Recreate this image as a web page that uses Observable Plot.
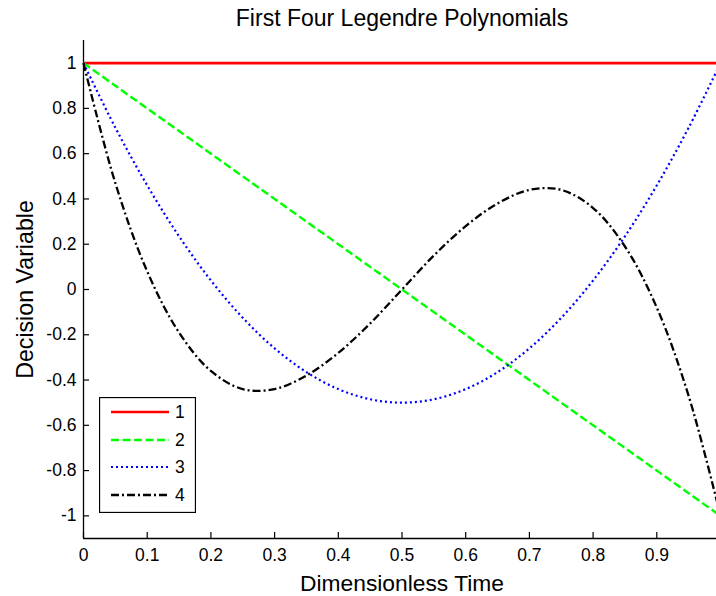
<!DOCTYPE html>
<html>
<head>
<meta charset="utf-8">
<script src="https://cdn.jsdelivr.net/npm/d3@7"></script>
<script src="https://cdn.jsdelivr.net/npm/@observablehq/plot@0.6"></script>
<style>
  html, body { margin: 0; padding: 0; background: #fff; overflow: hidden; }
  #wrap { position: relative; width: 716px; height: 596px; overflow: hidden; font-family: "Liberation Sans", Arial, sans-serif; }
  #wrap svg { max-width: none !important; height: auto; }
  #legend { position: absolute; left: 99px; top: 397px; }
</style>
</head>
<body>
<div id="wrap"></div>
<script>
// ---- data ----
const title = "First Four Legendre Polynomials";
const xLabel = "Dimensionless Time";
const yLabel = "Decision Variable";
const t  = [0, 0.05, 0.1, 0.15, 0.2, 0.25, 0.3, 0.35, 0.4, 0.45, 0.5, 0.55, 0.6, 0.65, 0.7, 0.75, 0.8, 0.85, 0.9, 0.95, 1];
const p1 = [1, 1, 1, 1, 1, 1, 1, 1, 1, 1, 1, 1, 1, 1, 1, 1, 1, 1, 1, 1, 1];
const p2 = [1, 0.9, 0.8, 0.7, 0.6, 0.5, 0.4, 0.3, 0.2, 0.1, 0, -0.1, -0.2, -0.3, -0.4, -0.5, -0.6, -0.7, -0.8, -0.9, -1];
const p3 = [1, 0.715, 0.46, 0.235, 0.04, -0.125, -0.26, -0.365, -0.44, -0.485, -0.5, -0.485, -0.44, -0.365, -0.26, -0.125, 0.04, 0.235, 0.46, 0.715, 1];
const p4 = [1, 0.47, 0.08, -0.19, -0.36, -0.44, -0.44, -0.38, -0.28, -0.15, 0, 0.15, 0.28, 0.38, 0.44, 0.44, 0.36, 0.19, -0.08, -0.47, -1];
const seriesNames = ["1", "2", "3", "4"];
const seriesColors = ["#ff0000", "#00ff00", "#0000ff", "#000000"];
const seriesDash = [null, "8,3.5", "2,3", "8,3,2,3"];
const seriesWidth = [2.6, 2.4, 2.2, 2.3];
const xTicks = [0, 0.1, 0.2, 0.3, 0.4, 0.5, 0.6, 0.7, 0.8, 0.9, 1];
const yTicks = [-1, -0.8, -0.6, -0.4, -0.2, 0, 0.2, 0.4, 0.6, 0.8, 1];

const allSeries = [p1, p2, p3, p4];
const rows = allSeries.map(vals => t.map((x, i) => ({x, y: vals[i]})));

const fs = 17.5;
const marks = [
  Plot.ruleX([0], {stroke: "black", strokeWidth: 1.3}),
  Plot.ruleY([-1.1], {stroke: "black", strokeWidth: 1.3}),
  // tick labels
  Plot.axisY(yTicks, {tickSize: 0, tickPadding: 7, tickFormat: d => String(d), fontSize: fs, label: null, color: "black"}),
  Plot.axisX(xTicks, {tickSize: 0, tickPadding: 10, tickFormat: d => String(d), fontSize: fs, label: null, color: "black"}),
  // inward ticks
  Plot.axisY(yTicks, {tickSize: 6, dx: 6, text: null, label: null, strokeWidth: 1.2}),
  Plot.axisX(xTicks, {tickSize: 6, dy: -6, text: null, label: null, strokeWidth: 1.2}),
  ...rows.map((data, k) => Plot.line(data, {
    x: "x", y: "y", curve: "catmull-rom",
    stroke: seriesColors[k], strokeWidth: seriesWidth[k],
    strokeDasharray: seriesDash[k], strokeLinecap: "butt"
  })),
  Plot.text([title], {frameAnchor: "top", textAnchor: "middle", dy: -15, lineAnchor: "bottom", fontSize: 23, fill: "black"}),
  Plot.text([xLabel], {frameAnchor: "bottom", textAnchor: "middle", dy: 52, lineAnchor: "bottom", fontSize: 22.8, fill: "black"}),
  Plot.text([yLabel], {frameAnchor: "left", textAnchor: "middle", dx: -51, rotate: -90, lineAnchor: "bottom", fontSize: 23.2, fill: "black"})
];

const chart = Plot.plot({
  width: 740, height: 596,
  marginLeft: 83, marginRight: 20, marginTop: 40, marginBottom: 58,
  x: {domain: [0, 1], axis: null},
  y: {domain: [-1.1, 1.1], axis: null},
  style: {fontFamily: "'Liberation Sans', Arial, sans-serif", background: "white", color: "black", overflow: "visible"},
  marks
});
chart.style.maxWidth = "none";
document.getElementById("wrap").appendChild(chart);

// legend
const lg = d3.select("#wrap").append("svg").attr("id", "legend")
  .attr("width", 97).attr("height", 116);
lg.append("rect").attr("x", 0.5).attr("y", 0.5).attr("width", 96).attr("height", 115)
  .attr("fill", "white").attr("stroke", "black").attr("stroke-width", 1.3);
const rowY = [15, 43, 70, 98];
seriesNames.forEach((name, k) => {
  lg.append("line").attr("x1", 12).attr("x2", 70).attr("y1", rowY[k]).attr("y2", rowY[k])
    .attr("stroke", seriesColors[k]).attr("stroke-width", seriesWidth[k])
    .attr("stroke-dasharray", seriesDash[k]);
  lg.append("text").attr("x", 76).attr("y", rowY[k]).attr("dy", "0.36em")
    .attr("font-size", fs).attr("font-family", "'Liberation Sans', Arial, sans-serif")
    .text(name);
});
</script>
</body>
</html>
